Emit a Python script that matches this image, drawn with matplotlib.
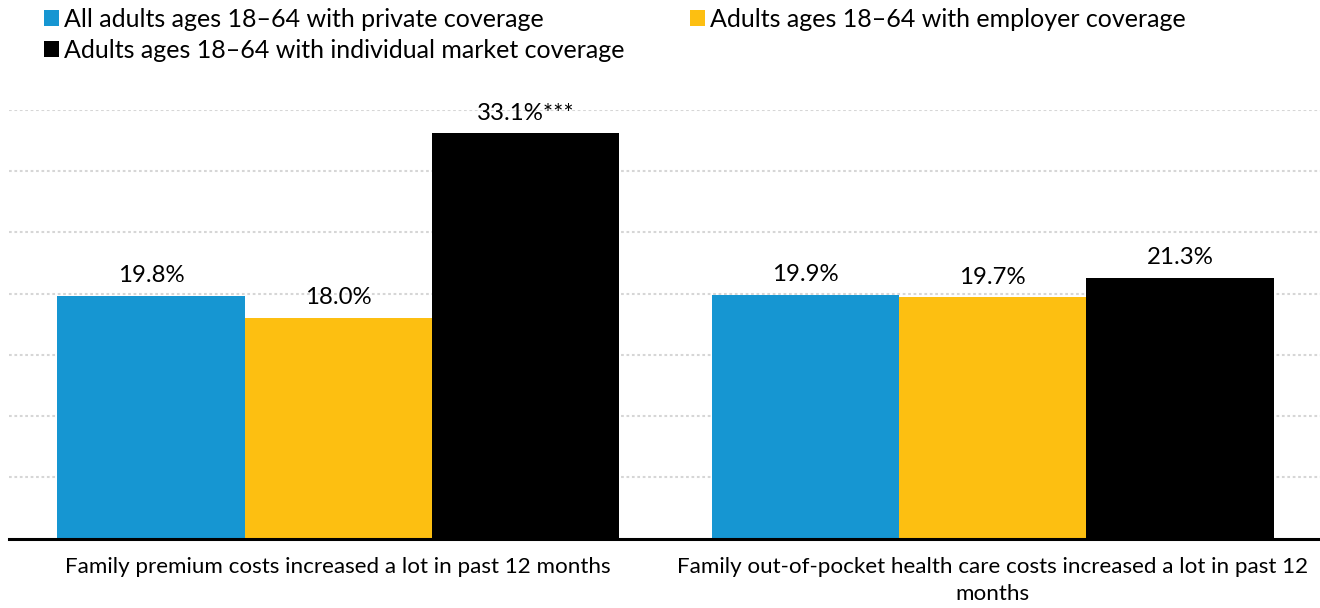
import matplotlib
matplotlib.use("Agg")
import matplotlib.pyplot as plt
import numpy as np

plt.rcParams['font.family'] = ['Lato', 'DejaVu Sans']

categories = ["Family premium costs increased a lot in past 12 months",
              "Family out-of-pocket health care costs increased a lot in past 12\nmonths"]
series_names = ["All adults ages 18\u201364 with private coverage",
                "Adults ages 18\u201364 with employer coverage",
                "Adults ages 18\u201364 with individual market coverage"]
series_values = [[19.8, 19.9], [18.0, 19.7], [33.1, 21.3]]
series_labels = [["19.8%", "19.9%"], ["18.0%", "19.7%"], ["33.1%***", "21.3%"]]
colors = ["#1696d2", "#fdbf11", "#000000"]

fig = plt.figure(figsize=(13.2, 6.08), dpi=100)
ax = fig.add_axes([9/1320, (608-538.5)/608, 1-9/1320, (538.5-110)/608])

x = np.arange(len(categories))
w = 0.286
bars = []
for i, (vals, c) in enumerate(zip(series_values, colors)):
    b = ax.bar(x + (i-1)*w, vals, width=w, color=c, label=series_names[i], zorder=3)
    bars.append(b)
    for j, rect in enumerate(b):
        cx = rect.get_x() + rect.get_width()/2
        top = rect.get_height()
        ax.annotate(series_labels[i][j], (cx, top), xytext=(0, 7), textcoords='offset points',
                    ha='center', va='bottom', fontsize=17.3, color='#000000', annotation_clip=False)

ax.set_xlim(-0.503, 1.5)
ax.set_ylim(0, 35)
ax.set_yticks(np.arange(5, 36, 5))
ax.yaxis.grid(True, linestyle=(0, (1.3, 1.3)), color='#d6d6d6', linewidth=1.5, zorder=0)
ax.tick_params(axis='y', left=False, labelleft=False)
ax.tick_params(axis='x', bottom=False, pad=10)
ax.set_xticks(x)
ax.set_xticklabels(categories, fontsize=16.1, linespacing=1.45)
for s in ['top', 'right', 'left']:
    ax.spines[s].set_visible(False)
ax.spines['bottom'].set_linewidth(2.2)
ax.spines['bottom'].set_color('#000000')
ax.spines['bottom'].set_zorder(4)

handles = [bars[0], bars[2], bars[1]]
labels = [series_names[0], series_names[2], series_names[1]]
leg = fig.legend(handles, labels, ncol=2, loc='upper left', bbox_to_anchor=(44/1320, 1 - 8/608),
                 frameon=False, fontsize=18, handlelength=0.6, handleheight=0.6,
                 handletextpad=0.2, columnspacing=2.6, labelspacing=0.3,
                 borderpad=0, borderaxespad=0)

fig.savefig("out.png", dpi=100)
